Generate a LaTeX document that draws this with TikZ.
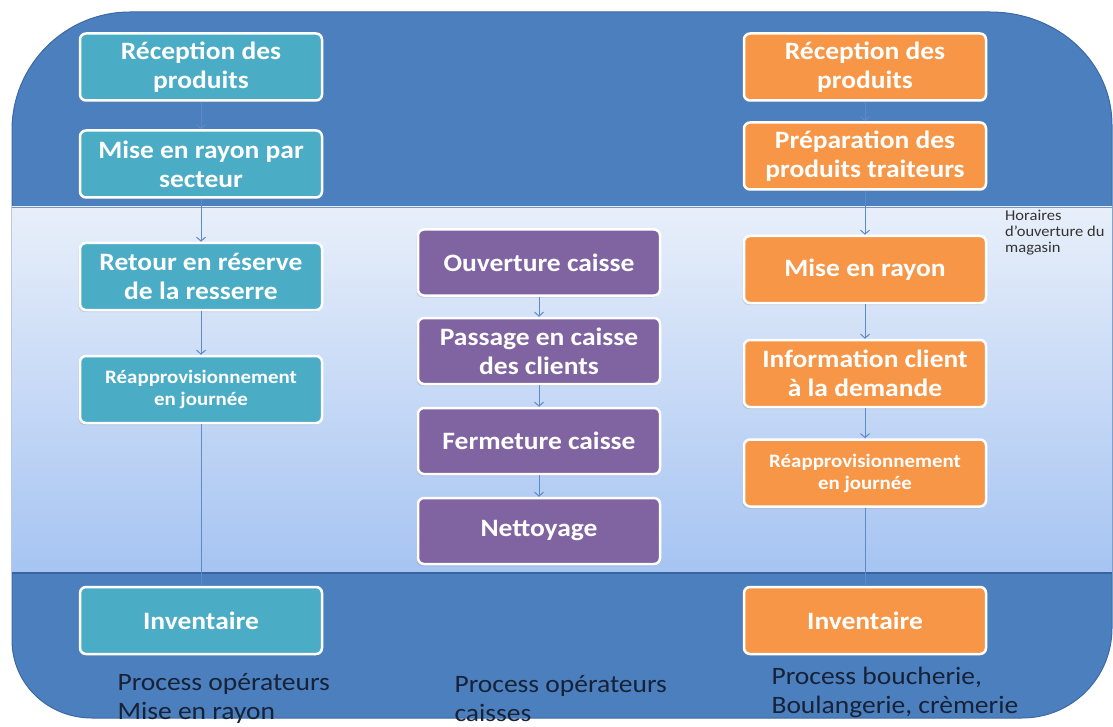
\documentclass[tikz,border=0pt]{standalone}
\usepackage{fontspec}
\setmainfont{Carlito}[FakeStretch=1.1]
\usetikzlibrary{arrows.meta,shadows}
\definecolor{bgblue}{RGB}{76,127,189}
\definecolor{bgedge}{RGB}{60,105,165}
\definecolor{bandtop}{RGB}{232,239,250}
\definecolor{bandbot}{RGB}{166,196,242}
\definecolor{bandline}{RGB}{58,100,160}
\definecolor{tealbox}{RGB}{75,172,198}
\definecolor{purplebox}{RGB}{128,100,162}
\definecolor{orangebox}{RGB}{247,150,70}
\definecolor{conn}{RGB}{95,138,200}
\definecolor{labeltext}{RGB}{22,34,56}
\begin{document}
\begin{tikzpicture}[x=1pt,y=-1pt,
  box/.style={rounded corners=6pt, draw=white, line width=2.5pt, text=white,
    minimum width=242pt, minimum height=67pt, align=center, inner sep=0pt,
    font=\bfseries\fontsize{25}{29}\selectfont,
    drop shadow={shadow xshift=-1.5pt, shadow yshift=-2pt, opacity=0.25}},
  smalltext/.style={font=\bfseries\fontsize{19}{22}\selectfont},
  tbox/.style={box, fill=tealbox},
  pbox/.style={box, fill=purplebox, minimum height=66pt},
  obox/.style={box, fill=orangebox},
  link/.style={draw=conn, line width=1pt, -{Straight Barb[length=4pt,width=9pt]}},
  plainlink/.style={draw=conn, line width=1pt},
  caption/.style={anchor=west, align=left, text=labeltext, font=\fontsize{25}{29}\selectfont},
]
\useasboundingbox (0,0) rectangle (1113,727);
% outer rounded panel
\path[fill=bgblue, draw=bgedge, line width=1pt]
  (12,130) .. controls (12,65) and (65,12) .. (130,12)
  -- (990,12) .. controls (1058,12) and (1112,62) .. (1112,125)
  -- (1112,628) .. controls (1112,678) and (1072,718) .. (1022,718)
  -- (92,718) .. controls (48,718) and (12,684) .. (12,640) -- cycle;
% light band
\shade[top color=bandtop, bottom color=bandbot] (12,207) rectangle (1112,573);
\draw[bandline, line width=2pt] (12,573) -- (1112,573);
\draw[bgedge!70, line width=0.8pt] (12,207) -- (1112,207);

% left column
\node[tbox] (l1) at (201,67) {Réception des\\produits};
\node[tbox] (l2) at (201,164) {Mise en rayon par\\secteur};
\node[tbox] (l3) at (201,276.5) {Retour en réserve\\de la resserre};
\node[tbox, smalltext] (l4) at (201,389.5) {Réapprovisionnement\\en journée};
\node[tbox] (l5) at (201,620.5) {Inventaire};

% middle column
\node[pbox] (m1) at (539,262.5) {Ouverture caisse};
\node[pbox] (m2) at (539,351) {Passage en caisse\\des clients};
\node[pbox] (m3) at (539,441) {Fermeture caisse};
\node[pbox] (m4) at (539,531) {Nettoyage};

% right column
\node[obox] (r1) at (865,67) {Réception des\\produits};
\node[obox] (r2) at (865,156) {Préparation des\\produits traiteurs};
\node[obox] (r3) at (865,269.5) {Mise en rayon};
\node[obox] (r4) at (865,373.5) {Information client\\à la demande};
\node[obox, smalltext] (r5) at (865,473) {Réapprovisionnement\\en journée};
\node[obox] (r6) at (865,620.5) {Inventaire};

% connectors
\draw[link] (l1) -- (l2);
\draw[link] (l2) -- (l3);
\draw[link] (l3) -- (l4);
\draw[plainlink] (l4) -- (l5);
\draw[link] (m1) -- (m2);
\draw[link] (m2) -- (m3);
\draw[link] (m3) -- (m4);
\draw[link] (r1) -- (r2);
\draw[link] (r2) -- (r3);
\draw[link] (r3) -- (r4);
\draw[link] (r4) -- (r5);
\draw[plainlink] (r5) -- (r6);

% side note
\node[anchor=west, align=left, text=black!80, inner sep=0pt, font=\fontsize{15}{16}\selectfont] (note) at (1005,233) {Horaires\\d’ouverture du\\magasin};

% captions
\node[caption] (c1) at (114,698) {Process opérateurs\\Mise en rayon};
\node[caption] (c2) at (451,699) {Process opérateurs\\caisses};
\node[caption] (c3) at (768,692) {Process boucherie,\\Boulangerie, crèmerie};
\end{tikzpicture}
\end{document}
